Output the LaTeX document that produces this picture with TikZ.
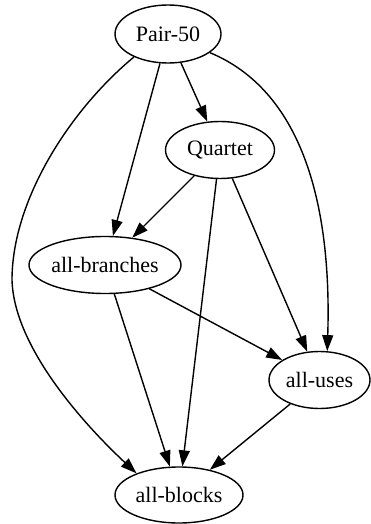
\documentclass[tikz,border=0pt]{standalone}
\usepackage{fontspec}
\setmainfont{Liberation Serif}
\usetikzlibrary{shapes.geometric,arrows.meta}
\begin{document}
\begin{tikzpicture}[x=1pt,y=-1pt,
  gnode/.style={draw,ellipse,inner sep=0pt,line width=1.4pt,font=\fontsize{22}{26}\selectfont},
  edge/.style={line width=1.4pt,-{Triangle[length=16pt,width=11pt]}}]
\useasboundingbox (0,0) rectangle (371,524);
\node[gnode,minimum width=106pt,minimum height=58pt] (p) at (168,34) {Pair-50};
\node[gnode,minimum width=109pt,minimum height=57pt] (q) at (220,150) {Quartet};
\node[gnode,minimum width=152pt,minimum height=57pt] (br) at (105,265) {all-branches};
\node[gnode,minimum width=101pt,minimum height=57pt] (u) at (319.5,380) {all-uses};
\node[gnode,minimum width=128pt,minimum height=56pt] (bl) at (179,495) {all-blocks};
\draw[edge] (p) -- (q);
\draw[edge] (p) -- (br);
\draw[edge] (q) -- (br);
\draw[edge] (q) -- (bl);
\draw[edge] (q) -- (u);
\draw[edge] (br) -- (bl);
\draw[edge] (br) -- (u);
\draw[edge] (u) -- (bl);
\draw[edge] (p.214) .. controls (70,110) and (12,200) .. (12,280) .. controls (14,350) and (90,430) .. (bl.153);
\draw[edge] (p.-24) .. controls (300,90) and (332,200) .. (u.75);
\end{tikzpicture}
\end{document}
